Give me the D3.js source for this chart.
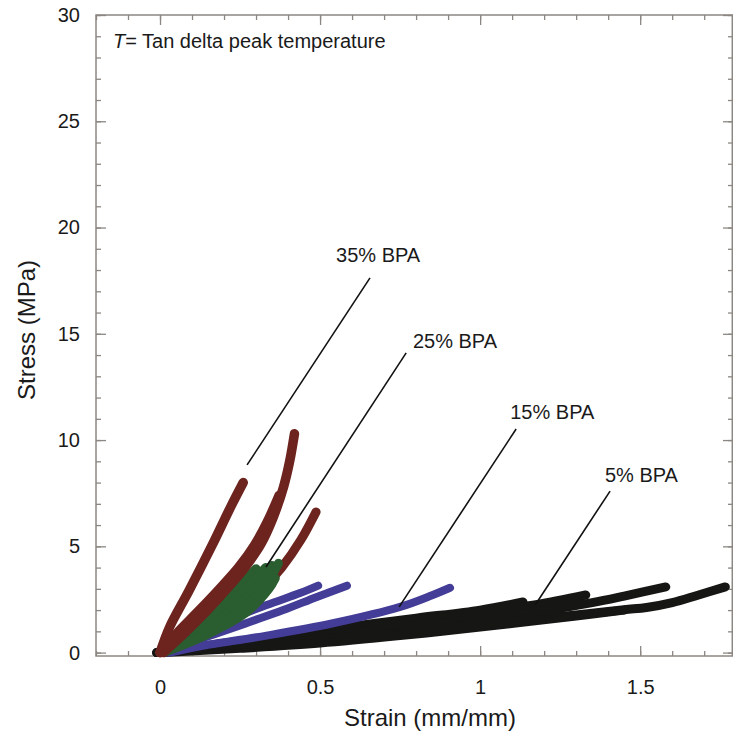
<!DOCTYPE html>
<html>
<head>
<meta charset="utf-8">
<script src="https://cdn.jsdelivr.net/npm/d3@7"></script>
<style>
  body { margin: 0; background: #fff; }
  svg { display: block; }
  text { font-family: "Liberation Sans", Arial, sans-serif; fill: #1a1a1a; }
</style>
</head>
<body>
<svg id="chart" width="733" height="737"></svg>
<script>
// Tick values
const xMajorTicks = [0, 0.5, 1, 1.5];
const xMinorTicks = [-0.2, -0.1, 0, 0.1, 0.2, 0.3, 0.4, 0.5, 0.6, 0.7, 0.8, 0.9, 1, 1.1, 1.2, 1.3, 1.4, 1.5, 1.6, 1.7];
const yMajorTicks = [0, 5, 10, 15, 20, 25, 30];
const yMinorTicks = [0, 1, 2, 3, 4, 5, 6, 7, 8, 9, 10, 11, 12, 13, 14, 15, 16, 17, 18, 19, 20, 21, 22, 23, 24, 25, 26, 27, 28, 29, 30];

// Stress-strain curves, [strain, stress] per point
const bpa5 = [
  [[-0.01,0],[0.25,0.55],[0.5,1.05],[0.8,1.62],[1.0,2.0],[1.134,2.38]],
  [[-0.01,0],[0.25,0.48],[0.5,0.94],[0.8,1.5],[1.0,1.87],[1.17,2.24],[1.33,2.71]],
  [[-0.01,0],[0.25,0.4],[0.5,0.78],[0.75,1.18],[1.0,1.58],[1.2,1.97],[1.35,2.35],[1.45,2.66],[1.58,3.09]],
  [[-0.01,0],[0.25,0.3],[0.5,0.6],[0.75,0.95],[1.0,1.33],[1.3,1.77],[1.45,2.02],[1.52,2.12],[1.6,2.35],[1.68,2.7],[1.766,3.09]],
  [[0.01,0],[0.25,0.2],[0.5,0.45],[0.75,0.8],[1.0,1.2],[1.3,1.72],[1.45,2.0]]
];
const bpa15 = [
  [[0.01,0],[0.06,0.42],[0.125,0.92],[0.229,1.62],[0.333,2.24],[0.4375,2.8],[0.494,3.15]],
  [[0.02,0],[0.08,0.38],[0.177,0.9],[0.28,1.44],[0.385,2.0],[0.49,2.62],[0.584,3.15]],
  [[0.03,0],[0.125,0.3],[0.333,0.8],[0.54,1.38],[0.75,2.15],[0.85,2.7],[0.906,3.05]]
];
const bpa25 = [
  [[0,0],[0.1,1.15],[0.2,2.45],[0.25,3.2],[0.3,3.95]],
  [[0,0],[0.11,1.0],[0.22,2.3],[0.28,3.2],[0.33,4.0]],
  [[0.01,0],[0.12,0.9],[0.24,2.2],[0.31,3.2],[0.35,4.1]],
  [[0.01,0],[0.13,0.85],[0.26,2.1],[0.33,3.2],[0.37,4.2]],
  [[0.01,0],[0.14,0.8],[0.27,1.9],[0.34,3.0],[0.36,3.5]]
];
const bpa35 = [
  [[0,0],[0.03,1.2],[0.09,2.9],[0.166,5.15],[0.219,6.8],[0.26,8.0]],
  [[0,0],[0.055,0.95],[0.12,1.95],[0.195,3.15],[0.245,4.0],[0.295,5.05],[0.335,6.15],[0.372,7.4]],
  [[0.01,0],[0.075,0.9],[0.145,1.95],[0.215,3.1],[0.265,4.0],[0.315,5.1],[0.352,6.3],[0.386,7.8],[0.405,9.0],[0.42,10.3]],
  [[0.01,0],[0.12,0.8],[0.22,1.75],[0.32,3.0],[0.38,4.0],[0.44,5.3],[0.4875,6.62]]
];

// Leader labels: text position and line from (x1,y1) to (x2,y2)
const labelNames = ["35% BPA", "25% BPA", "15% BPA", "5% BPA"];
const labelPos = [[0.55,18.38],[0.79,14.33],[1.094,11.0],[1.39,8.03]];
const leaderLines = [
  [0.656,17.63,0.272,8.83],
  [0.769,14.1,0.331,4.03],
  [1.1125,10.52,0.747,2.15],
  [1.406,7.6,1.172,2.24]
];

const seriesColors = { bpa5: "#161614", bpa15: "#443d97", bpa25: "#2a5d2f", bpa35: "#6d241f" };

const svg = d3.select("#chart");
const margin = {top: 15, right: 0, bottom: 81, left: 96};
const svgWidth = 733, svgHeight = 737;

const xScale = d3.scaleLinear()
  .domain([-0.2, 1.79])
  .range([margin.left, svgWidth - margin.right]);
const yScale = d3.scaleLinear()
  .domain([-0.16, 30])
  .range([svgHeight - margin.bottom, margin.top]);

const axisColor = "#8c8782";

function styleAxis(g) {
  g.select(".domain").remove();
  g.selectAll(".tick line").attr("stroke", axisColor).attr("stroke-width", 1.3);
  g.selectAll(".tick text").style("font-size", "20px").attr("fill", "#1a1a1a");
}

const x0 = xScale.range()[0], x1 = xScale.range()[1];
const y0 = yScale.range()[0], y1 = yScale.range()[1];

// Left axis
svg.append("g").attr("transform", "translate(" + x0 + ",0)")
  .call(d3.axisLeft(yScale).tickValues(yMinorTicks).tickSize(-5).tickFormat(""))
  .call(styleAxis);
svg.append("g").attr("transform", "translate(" + x0 + ",0)")
  .call(d3.axisLeft(yScale).tickValues(yMajorTicks).tickSize(-10).tickPadding(16).tickFormat(d3.format("")))
  .call(styleAxis);
// Right axis
svg.append("g").attr("transform", "translate(" + x1 + ",0)")
  .call(d3.axisRight(yScale).tickValues(yMinorTicks).tickSize(-5).tickFormat(""))
  .call(styleAxis);
svg.append("g").attr("transform", "translate(" + x1 + ",0)")
  .call(d3.axisRight(yScale).tickValues(yMajorTicks).tickSize(-10).tickFormat(""))
  .call(styleAxis);
// Bottom axis
svg.append("g").attr("transform", "translate(0," + y0 + ")")
  .call(d3.axisBottom(xScale).tickValues(xMinorTicks).tickSize(-5).tickFormat(""))
  .call(styleAxis);
svg.append("g").attr("transform", "translate(0," + y0 + ")")
  .call(d3.axisBottom(xScale).tickValues(xMajorTicks).tickSize(-10).tickPadding(24).tickFormat(d3.format("")))
  .call(styleAxis);
// Top axis
svg.append("g").attr("transform", "translate(0," + y1 + ")")
  .call(d3.axisTop(xScale).tickValues(xMinorTicks).tickSize(-5).tickFormat(""))
  .call(styleAxis);
svg.append("g").attr("transform", "translate(0," + y1 + ")")
  .call(d3.axisTop(xScale).tickValues(xMajorTicks).tickSize(-10).tickFormat(""))
  .call(styleAxis);

// Frame
svg.append("rect")
  .attr("x", x0).attr("y", y1)
  .attr("width", x1 - x0 - 0.7).attr("height", y0 - y1)
  .attr("fill", "none")
  .attr("stroke", axisColor)
  .attr("stroke-width", 1.5);

// Curves
const curveLine = d3.line()
  .x(d => xScale(d[0]))
  .y(d => yScale(d[1]))
  .curve(d3.curveCatmullRom.alpha(0.5));

function drawGroup(data, color, width) {
  svg.append("g").selectAll("path")
    .data(data)
    .enter()
    .append("path")
    .attr("d", curveLine)
    .attr("fill", "none")
    .attr("stroke", color)
    .attr("stroke-width", width)
    .attr("stroke-linecap", "round")
    .attr("stroke-linejoin", "round");
}

// the widest 35% curve sits underneath the 25% bundle
drawGroup(bpa5, seriesColors.bpa5, 9);
drawGroup(bpa15, seriesColors.bpa15, 8);
drawGroup(bpa35.slice(3), seriesColors.bpa35, 9);
drawGroup(bpa25, seriesColors.bpa25, 9);
drawGroup(bpa35.slice(0, 3), seriesColors.bpa35, 9.5);

// Leader lines and labels
svg.append("g").selectAll("line")
  .data(leaderLines)
  .enter()
  .append("line")
  .attr("x1", d => xScale(d[0]))
  .attr("y1", d => yScale(d[1]))
  .attr("x2", d => xScale(d[2]))
  .attr("y2", d => yScale(d[3]))
  .attr("stroke", "#111")
  .attr("stroke-width", 1.6);

svg.append("g").selectAll("text")
  .data(labelNames)
  .enter()
  .append("text")
  .attr("x", (d, i) => xScale(labelPos[i][0]))
  .attr("y", (d, i) => yScale(labelPos[i][1]))
  .style("font-size", "20px")
  .text(d => d);

// Note at top left
const note = svg.append("text")
  .attr("x", xScale(-0.147))
  .attr("y", yScale(28.45))
  .style("font-size", "20px");
note.append("tspan").style("font-style", "italic").text("T");
note.append("tspan").text("= Tan delta peak temperature");

// Axis titles
svg.append("text")
  .attr("x", 430)
  .attr("y", 726)
  .attr("text-anchor", "middle")
  .style("font-size", "24px")
  .text("Strain (mm/mm)");

svg.append("text")
  .attr("transform", "translate(35,330) rotate(-90)")
  .attr("text-anchor", "middle")
  .style("font-size", "24px")
  .text("Stress (MPa)");
</script>
</body>
</html>
